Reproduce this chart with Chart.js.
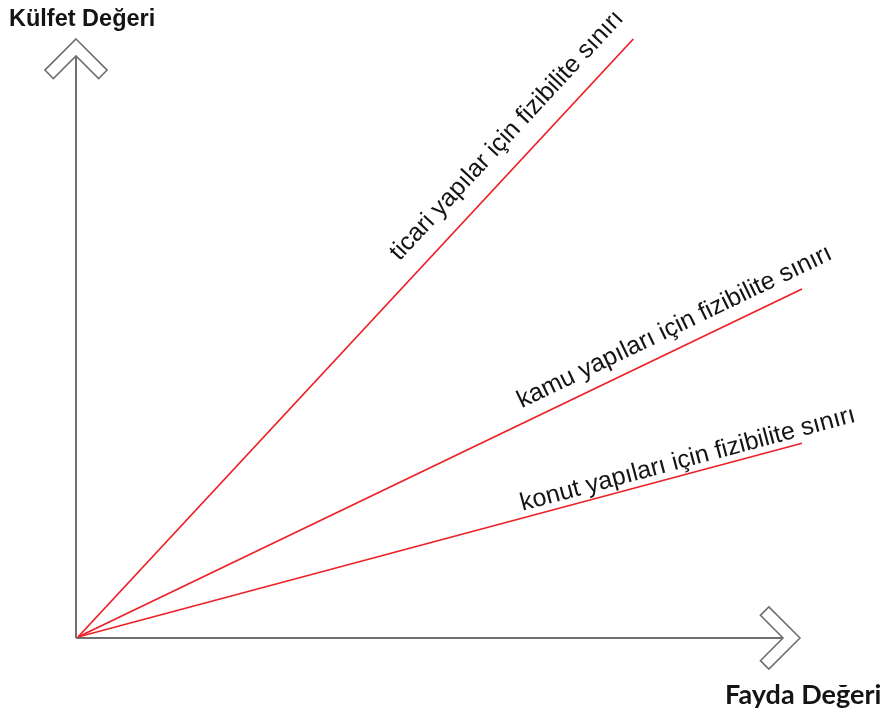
<!DOCTYPE html>
<html>
<head>
<meta charset="utf-8">
<script src="https://cdn.jsdelivr.net/npm/chart.js@4/dist/chart.umd.min.js"></script>
<style>
  html, body { margin: 0; padding: 0; background: #ffffff; }
  canvas { display: block; }
</style>
</head>
<body>
<canvas id="chart" width="882" height="720"></canvas>
<script>
// Feasibility boundaries: each one runs from the origin to its end point
const boundaryNames = [
  'ticari yapılar için fizibilite sınırı',
  'kamu yapıları için fizibilite sınırı',
  'konut yapıları için fizibilite sınırı'
];
const benefitEnd = [76.7, 100, 100];  // Fayda Değeri at the end of each boundary
const costEnd = [100, 58.2, 32.4];    // Külfet Değeri at the end of each boundary
const axisTitles = { x: 'Fayda Değeri', y: 'Külfet Değeri' };

const LINE_RED = '#ec2228';
const AXIS_GREY = '#707070';
const TEXT_DARK = '#141414';

// label placement along each boundary (distance from origin, offset above the line), in px
const labelPlacement = [
  { along: 494, offset: 20 },
  { along: 499, offset: 14 },
  { along: 462, offset: 7 }
];

function chevron(ctx, x, y, rotation) {
  // hollow chevron pointing "up" in local coordinates, tip at (0,0)
  const arm = 44, thick = 12, k = Math.SQRT1_2;
  ctx.save();
  ctx.translate(x, y);
  ctx.rotate(rotation);
  ctx.beginPath();
  ctx.moveTo(0, 0);
  ctx.lineTo(arm * k, arm * k);
  ctx.lineTo(arm * k - thick * k, arm * k + thick * k);
  ctx.lineTo(0, thick / k);
  ctx.lineTo(-(arm * k - thick * k), arm * k + thick * k);
  ctx.lineTo(-arm * k, arm * k);
  ctx.closePath();
  ctx.fillStyle = '#ffffff';
  ctx.fill();
  ctx.lineWidth = 1.6;
  ctx.strokeStyle = AXIS_GREY;
  ctx.lineJoin = 'miter';
  ctx.stroke();
  ctx.restore();
}

const diagramPlugin = {
  id: 'diagram',
  beforeDatasetsDraw(chart) {
    const { ctx } = chart;
    const xs = chart.scales.x, ys = chart.scales.y;
    const ox = xs.getPixelForValue(0) - 2;
    const oy = ys.getPixelForValue(0) + 1;
    ctx.save();
    ctx.strokeStyle = AXIS_GREY;
    ctx.lineWidth = 2;
    ctx.beginPath();
    ctx.moveTo(ox, oy);
    ctx.lineTo(ox, 56);
    ctx.moveTo(ox, oy);
    ctx.lineTo(783, oy);
    ctx.stroke();
    ctx.restore();
    chevron(ctx, ox, 39, 0);
    chevron(ctx, 800, oy, Math.PI / 2);
  },
  afterDatasetsDraw(chart) {
    const { ctx } = chart;
    const xs = chart.scales.x, ys = chart.scales.y;
    const x0 = xs.getPixelForValue(0), y0 = ys.getPixelForValue(0);
    ctx.save();
    ctx.fillStyle = TEXT_DARK;
    ctx.textBaseline = 'alphabetic';
    ctx.textAlign = 'left';
    ctx.font = '25px "Liberation Sans", Arial, sans-serif';
    boundaryNames.forEach((name, i) => {
      const x1 = xs.getPixelForValue(benefitEnd[i]);
      const y1 = ys.getPixelForValue(costEnd[i]);
      const ang = Math.atan2(y1 - y0, x1 - x0);
      const len = Math.hypot(x1 - x0, y1 - y0);
      const ux = (x1 - x0) / len, uy = (y1 - y0) / len;
      const p = labelPlacement[i];
      const px = x0 + ux * p.along + uy * p.offset;
      const py = y0 + uy * p.along - ux * p.offset;
      ctx.save();
      ctx.translate(px, py);
      ctx.rotate(ang);
      ctx.fillText(name, 0, 0);
      ctx.restore();
    });
    // axis titles
    ctx.font = 'bold 23.5px "Liberation Sans", Arial, sans-serif';
    ctx.fillText(axisTitles.y, 9, 26);
    ctx.font = 'bold 27px Lato, "Open Sans", sans-serif';
    ctx.fillText(axisTitles.x, 725, 704);
    ctx.restore();
  }
};

new Chart(document.getElementById('chart'), {
  type: 'line',
  data: {
    datasets: boundaryNames.map((name, i) => ({
      label: name,
      data: [{ x: 0, y: 0 }, { x: benefitEnd[i], y: costEnd[i] }],
      borderColor: LINE_RED,
      borderWidth: 1.8,
      pointRadius: 0,
      fill: false,
      tension: 0,
      clip: false
    }))
  },
  options: {
    responsive: false,
    animation: false,
    layout: { padding: { left: 78, right: 80, top: 39, bottom: 83 } },
    plugins: {
      legend: { display: false },
      tooltip: { enabled: false }
    },
    scales: {
      x: { type: 'linear', min: 0, max: 100, display: false },
      y: { type: 'linear', min: 0, max: 100, display: false }
    }
  },
  plugins: [diagramPlugin]
});
</script>
</body>
</html>
